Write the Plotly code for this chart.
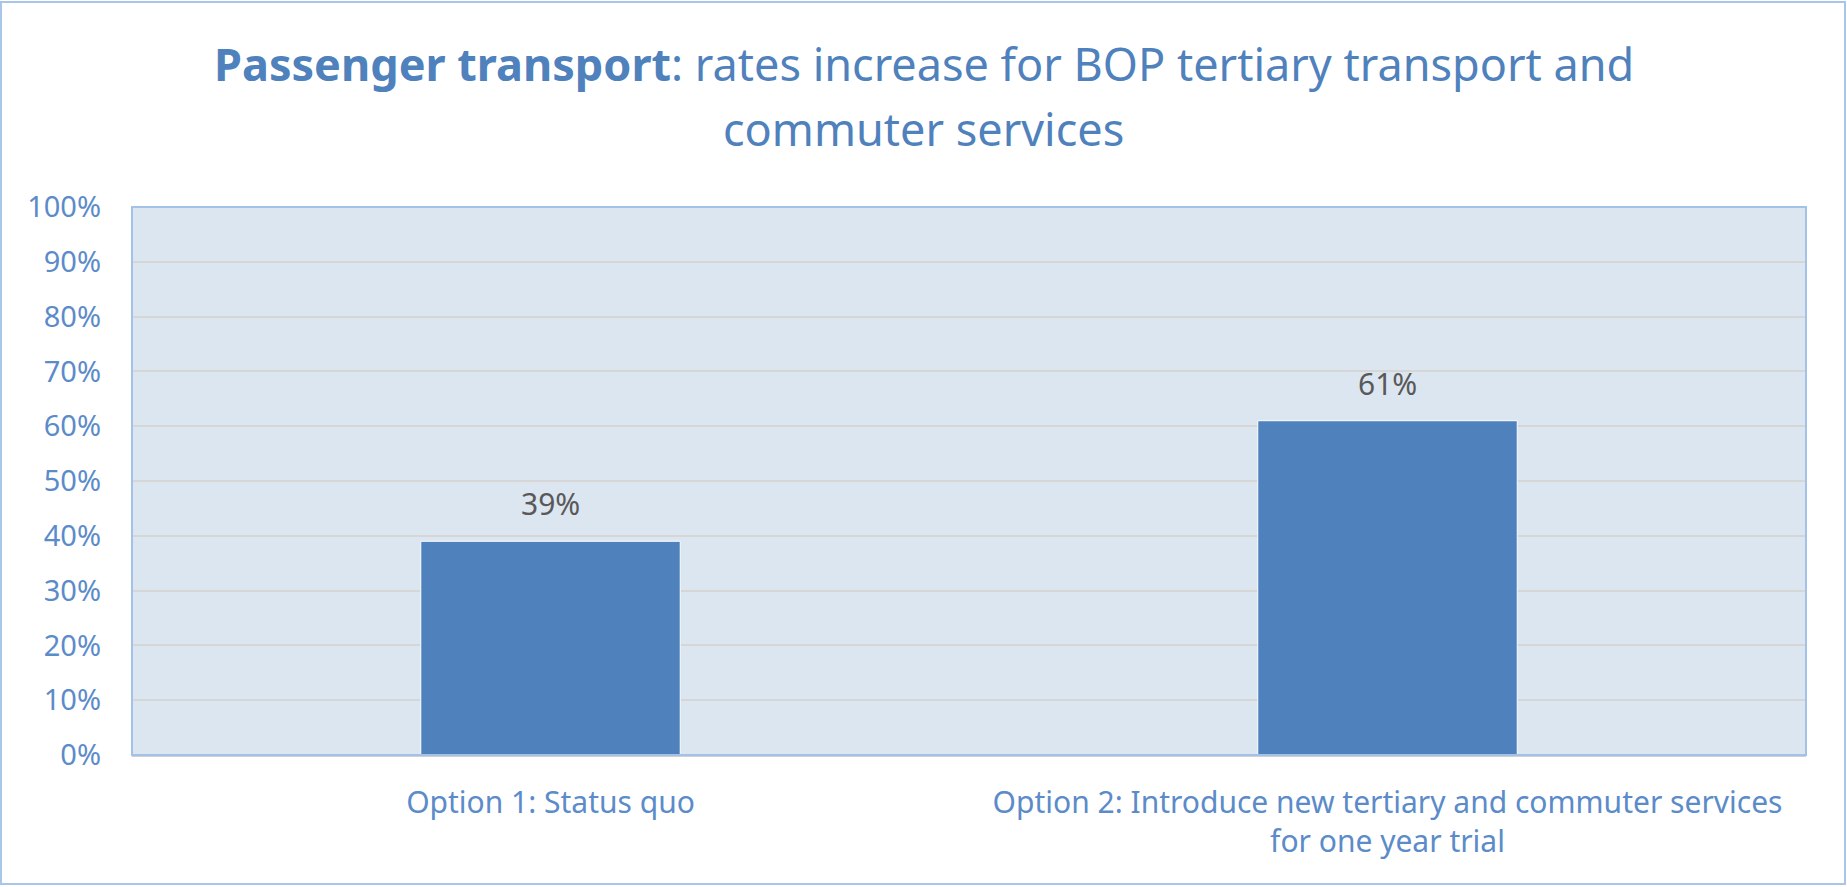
import plotly.graph_objects as go

categories = ["Option 1: Status quo",
              "Option 2: Introduce new tertiary and commuter services<br>for one year trial"]
values = [0.39, 0.61]
value_labels = ["39%", "61%"]
tick_vals = [i / 10 for i in range(11)]
tick_text = [f"{i*10}%" for i in range(11)]
title_line1 = "<b>Passenger transport</b>: rates increase for BOP tertiary transport and"
title_line2 = "commuter services"

W, H = 1847, 887
ML, MR, MT, MB = 132, 41, 207, 132
PW, PH = W - ML - MR, H - MT - MB

FONT = "Noto Sans"
BLUE = "#4F81BD"
TICK = "#5B8BC9"

fig = go.Figure()
fig.add_trace(go.Bar(
    x=categories, y=values, width=0.31,
    marker=dict(color=BLUE, line=dict(color="#FFFFFF", width=1)),
    hoverinfo="skip",
))

for c, v, t in zip(categories, values, value_labels):
    fig.add_annotation(x=c, y=v, text=t, showarrow=False, yanchor="bottom",
                       yshift=15, font=dict(family=FONT, size=30, color="#595959"))

def py(px_from_top):
    return (H - MB - px_from_top) / PH

fig.add_annotation(xref="paper", yref="paper", x=(W / 2 - ML) / PW, y=py(63),
                   text=title_line1, showarrow=False, xanchor="center", yanchor="middle",
                   font=dict(family=FONT, size=45, color=BLUE))
fig.add_annotation(xref="paper", yref="paper", x=(W / 2 - ML) / PW, y=py(129),
                   text=title_line2, showarrow=False, xanchor="center", yanchor="middle",
                   font=dict(family=FONT, size=45, color=BLUE))

# outer frame
fig.add_shape(type="rect", xref="paper", yref="paper",
              x0=(1 - ML) / PW, x1=(W - 2 - ML) / PW,
              y0=py(H - 3), y1=py(2),
              line=dict(color="#A9C6EA", width=2), fillcolor="rgba(0,0,0,0)", layer="above")
# plot frame
fig.add_shape(type="rect", xref="paper", yref="paper", x0=0, x1=1, y0=0, y1=1,
              line=dict(color="#A4C2E8", width=2), fillcolor="rgba(0,0,0,0)", layer="above")

fig.update_layout(
    width=W, height=H,
    margin=dict(l=ML, r=MR, t=MT, b=MB, autoexpand=False),
    paper_bgcolor="#FFFFFF", plot_bgcolor="#DCE6F1",
    showlegend=False,
    bargap=0.69,
)
fig.update_yaxes(range=[0, 1], tickvals=tick_vals, ticktext=tick_text,
                 showgrid=True, gridcolor="#D6D6D6", gridwidth=1.5,
                 zeroline=False, showline=False, ticks="",
                 ticklabelstandoff=30,
                 tickfont=dict(family=FONT, size=29, color=TICK), fixedrange=True)
fig.update_xaxes(showgrid=False, ticks="", showline=True, linecolor="#D0D0D0", linewidth=2,
                 ticklabelstandoff=20,
                 tickfont=dict(family=FONT, size=30, color=TICK), fixedrange=True)

fig.write_html("out.html", config={"displayModeBar": False})
